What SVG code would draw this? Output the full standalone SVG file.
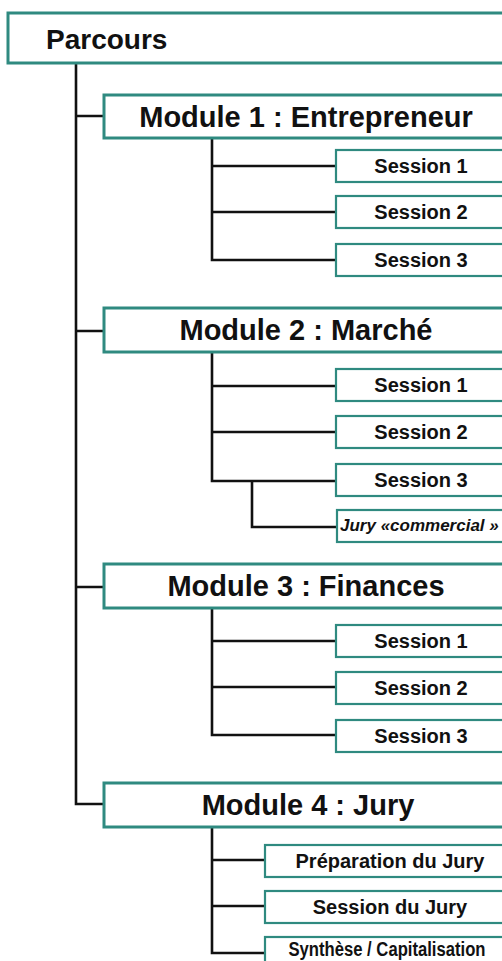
<svg xmlns="http://www.w3.org/2000/svg" width="502" height="961" viewBox="0 0 502 961">
<style>
.box{fill:#fff;stroke:#2f8a80;stroke-width:3}
.sbox{fill:#fff;stroke:#2f8a80;stroke-width:2.2}
.t{font-family:"Liberation Sans",Arial,sans-serif;font-weight:bold;fill:#111}
.top{font-size:28px}
.mod{font-size:29px;text-anchor:middle}
.ses{font-size:20px;text-anchor:middle}
.jury{font-size:17px;font-style:italic}
.ln{fill:none;stroke:#111;stroke-width:2.6}
</style>
<rect width="502" height="961" fill="#fff"/>
<g id="connectors">
<path class="ln" d="M76,63 V804 H104 M76,116 H104 M76,331 H104 M76,587 H104"/>
<path class="ln" d="M212,138 V260 H336 M212,166 H336 M212,212 H336"/>
<path class="ln" d="M212,352 V481 H336 M212,386 H336 M212,432 H336 M252,481 V527 H337"/>
<path class="ln" d="M212,608 V735 H336 M212,641 H336 M212,687 H336"/>
<path class="ln" d="M212,828 V953 H265 M212,860 H265 M212,906 H265"/>
</g>
<g id="parcours"><rect class="box" x="8" y="13" width="520" height="50"/><text class="t top" x="46" y="49">Parcours</text></g>
<g id="module1"><rect class="box" x="104" y="95" width="420" height="43"/><text class="t mod" x="306" y="127">Module 1 : Entrepreneur</text></g>
<g id="m1s1"><rect class="sbox" x="336" y="150" width="190" height="32"/><text class="t ses" x="421" y="173">Session 1</text></g>
<g id="m1s2"><rect class="sbox" x="336" y="196" width="190" height="32"/><text class="t ses" x="421" y="219">Session 2</text></g>
<g id="m1s3"><rect class="sbox" x="336" y="244" width="190" height="32"/><text class="t ses" x="421" y="267">Session 3</text></g>
<g id="module2"><rect class="box" x="104" y="308" width="420" height="44"/><text class="t mod" x="306" y="340">Module 2 : Marché</text></g>
<g id="m2s1"><rect class="sbox" x="336" y="369" width="190" height="32"/><text class="t ses" x="421" y="392">Session 1</text></g>
<g id="m2s2"><rect class="sbox" x="336" y="416" width="190" height="32"/><text class="t ses" x="421" y="439">Session 2</text></g>
<g id="m2s3"><rect class="sbox" x="336" y="464" width="190" height="32"/><text class="t ses" x="421" y="487">Session 3</text></g>
<g id="m2jury"><rect class="sbox" x="337" y="510" width="190" height="32"/><text class="t jury" x="340" y="531">Jury «commercial »</text></g>
<g id="module3"><rect class="box" x="104" y="564" width="420" height="44"/><text class="t mod" x="306" y="596">Module 3 : Finances</text></g>
<g id="m3s1"><rect class="sbox" x="336" y="625" width="190" height="32"/><text class="t ses" x="421" y="648">Session 1</text></g>
<g id="m3s2"><rect class="sbox" x="336" y="672" width="190" height="32"/><text class="t ses" x="421" y="695">Session 2</text></g>
<g id="m3s3"><rect class="sbox" x="336" y="720" width="190" height="32"/><text class="t ses" x="421" y="743">Session 3</text></g>
<g id="module4"><rect class="box" x="104" y="783" width="420" height="44"/><text class="t mod" x="308" y="815">Module 4 : Jury</text></g>
<g id="m4s1"><rect class="sbox" x="265" y="845" width="260" height="32"/><text class="t ses" x="390" y="868">Préparation du Jury</text></g>
<g id="m4s2"><rect class="sbox" x="265" y="891" width="260" height="32"/><text class="t ses" x="390" y="914">Session du Jury</text></g>
<g id="m4s3"><rect class="sbox" x="265" y="937" width="260" height="32"/><text class="t ses" x="387" y="956" textLength="197" lengthAdjust="spacingAndGlyphs">Synthèse / Capitalisation</text></g>
</svg>
